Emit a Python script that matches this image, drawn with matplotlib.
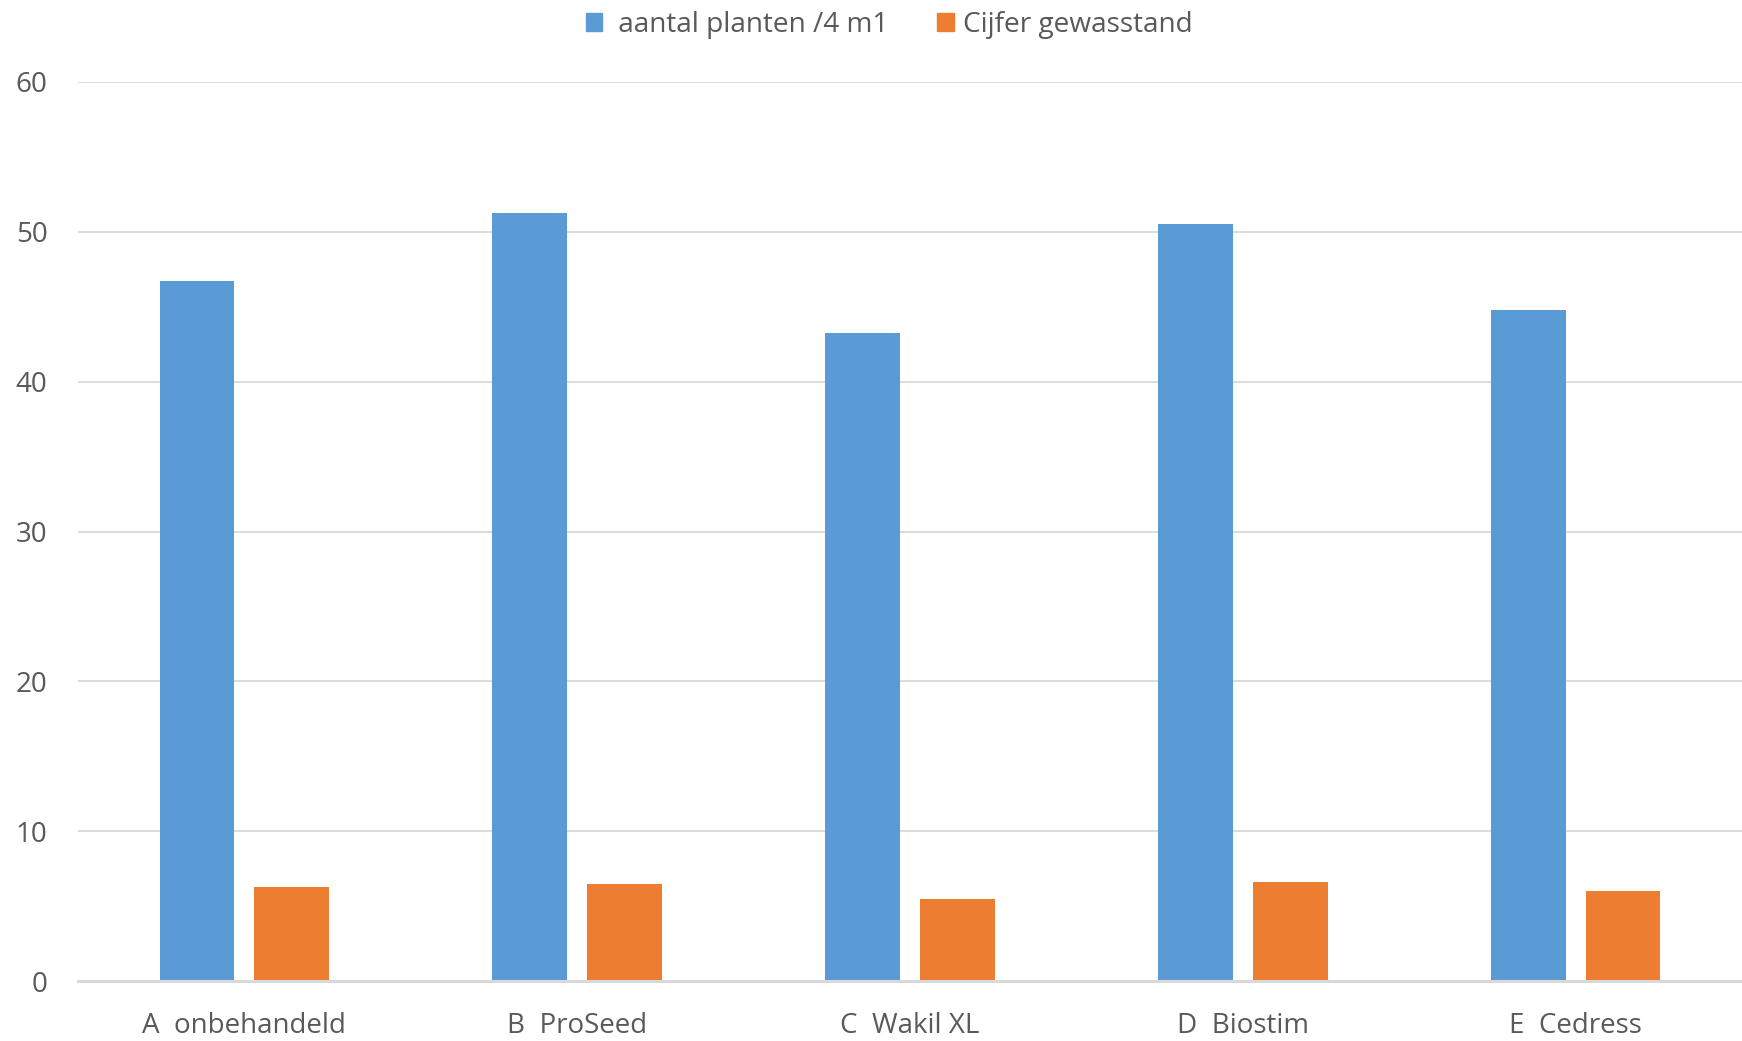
import numpy as np
import matplotlib
matplotlib.use("Agg")
from matplotlib import pyplot as plt
from matplotlib.patches import Patch

# Data
categories = ["A  onbehandeld", "B  ProSeed", "C  Wakil XL", "D  Biostim", "E  Cedress"]
aantal_planten = [46.75, 51.25, 43.25, 50.5, 44.75]
cijfer_gewasstand = [6.3, 6.5, 5.5, 6.6, 6.0]
yticks = [0, 10, 20, 30, 40, 50, 60]

blue = "#5B9BD5"
orange = "#ED7D31"
grey_text = "#595959"

plt.rcParams['font.family'] = ['Open Sans', 'DejaVu Sans']

fig = plt.figure(figsize=(17.42, 10.41), dpi=100)
ax = fig.add_axes([78 / 1742, 1 - 981 / 1041, (1742 - 78) / 1742, (981 - 82) / 1041])

x = np.arange(len(categories))
w = 0.225
off = w / 2 + 0.03
ax.bar(x - off, aantal_planten, width=w, color=blue, zorder=3)
ax.bar(x + off, cijfer_gewasstand, width=w, color=orange, zorder=3)

ax.set_xlim(-0.5, len(categories) - 0.5)
ax.set_ylim(0, 60)
ax.set_yticks(yticks)
ax.set_xticks(x)
ax.set_xticklabels(categories)

ax.grid(axis='y', color="#d9d9d9", linewidth=1.3, zorder=0)
for s in ['top', 'right', 'left']:
    ax.spines[s].set_visible(False)
ax.spines['bottom'].set_color("#d9d9d9")
ax.spines['bottom'].set_linewidth(2.2)
ax.spines['bottom'].set_zorder(4)

ax.tick_params(axis='both', length=0, labelsize=20, labelcolor=grey_text)
ax.tick_params(axis='y', pad=22)
ax.tick_params(axis='x', pad=22)

handles = [Patch(color=blue, label=" aantal planten /4 m1"),
           Patch(color=orange, label="Cijfer gewasstand")]
fig.legend(handles=handles, loc='center', bbox_to_anchor=(889 / 1742, 1 - 25 / 1041),
           ncol=2, frameon=False, fontsize=20.2, labelcolor=grey_text,
           handlelength=0.58, handleheight=0.62, handletextpad=0.32, columnspacing=1.75)

fig.savefig("out.png", dpi=100)
